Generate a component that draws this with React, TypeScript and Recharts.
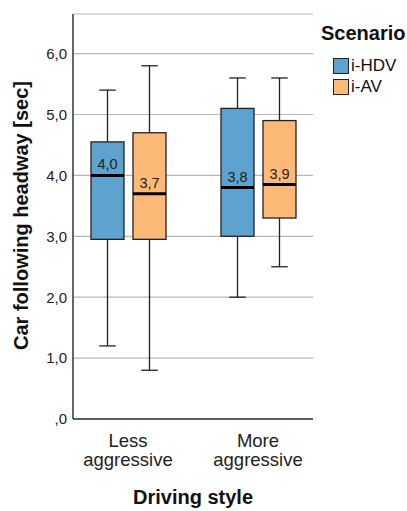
import { ComposedChart, Bar, XAxis, YAxis, CartesianGrid, Label } from 'recharts'

const styles = ['Less aggressive', 'More aggressive']
const styleIdx = [0, 1]

// i-HDV box statistics per driving style
const hdvMin = [1.2, 2.0]
const hdvQ1 = [2.95, 3.0]
const hdvMedian = [4.0, 3.8]
const hdvQ3 = [4.55, 5.1]
const hdvMax = [5.4, 5.6]

// i-AV box statistics per driving style
const avMin = [0.8, 2.5]
const avQ1 = [2.95, 3.3]
const avMedian = [3.7, 3.85]
const avQ3 = [4.7, 4.9]
const avMax = [5.8, 5.6]

const hdvLabels = ['4,0', '3,8']
const avLabels = ['3,7', '3,9']

const yTicks = [0, 1, 2, 3, 4, 5, 6]

const series = [
  { key: 'hdv', name: 'i-HDV', color: '#5ea2cf' },
  { key: 'av', name: 'i-AV', color: '#fdb977' },
]

const data = styleIdx.map((i) => ({
  idx: i,
  hdv: [hdvMin[i], hdvMax[i]],
  av: [avMin[i], avMax[i]],
  hdvStats: { min: hdvMin[i], q1: hdvQ1[i], med: hdvMedian[i], q3: hdvQ3[i], max: hdvMax[i], label: hdvLabels[i] },
  avStats: { min: avMin[i], q1: avQ1[i], med: avMedian[i], q3: avQ3[i], max: avMax[i], label: avLabels[i] },
}))

const FONT = 'Liberation Sans, Arial, sans-serif'

function makeBoxShape(key: string, fill: string) {
  return (props: any) => {
    const { x, y, width, height, payload } = props
    const s = payload[key + 'Stats']
    const top = Math.min(y, y + height)
    const bottom = Math.max(y, y + height)
    // map a value onto the pixel span the bar got from the y scale
    const py = (v: number) => bottom - ((v - s.min) / (s.max - s.min)) * (bottom - top)
    const cx = x + width / 2
    const capW = width / 2
    return (
      <g>
        <line x1={cx} x2={cx} y1={py(s.max)} y2={py(s.q3)} stroke="#222" strokeWidth={1.3} />
        <line x1={cx} x2={cx} y1={py(s.q1)} y2={py(s.min)} stroke="#222" strokeWidth={1.3} />
        <line x1={cx - capW / 2} x2={cx + capW / 2} y1={py(s.max)} y2={py(s.max)} stroke="#222" strokeWidth={1.3} />
        <line x1={cx - capW / 2} x2={cx + capW / 2} y1={py(s.min)} y2={py(s.min)} stroke="#222" strokeWidth={1.3} />
        <rect x={x} y={py(s.q3)} width={width} height={py(s.q1) - py(s.q3)} fill={fill} stroke="#222" strokeWidth={1.3} />
        <line x1={x} x2={x + width} y1={py(s.med)} y2={py(s.med)} stroke="#000" strokeWidth={3} />
        <text x={cx} y={py(s.med) - 6} textAnchor="middle" fontSize={14.5} fontFamily={FONT} fill="#222">
          {s.label}
        </text>
      </g>
    )
  }
}

function CategoryTick(props: any) {
  const { x, y, payload } = props
  const words = String(styles[payload.value] ?? '').split(' ')
  return (
    <text x={x} y={y} textAnchor="middle" fontSize={18.5} fontFamily={FONT} fill="#222">
      <tspan x={x} dy={20}>{words[0]}</tspan>
      <tspan x={x} dy={19}>{words[1]}</tspan>
    </text>
  )
}

function LegendBox() {
  return (
    <div style={{ position: 'absolute', left: 321, top: 21, fontFamily: FONT, color: '#111' }}>
      <div style={{ fontWeight: 'bold', fontSize: 20, lineHeight: '24px', marginBottom: 10 }}>Scenario</div>
      {series.map((s) => (
        <div key={s.key} style={{ display: 'flex', alignItems: 'center', height: 21, marginLeft: 12 }}>
          <span
            style={{
              display: 'inline-block',
              width: 14,
              height: 14,
              background: s.color,
              border: '1.3px solid #222',
              marginRight: 2,
            }}
          />
          <span style={{ fontSize: 17 }}>{s.name}</span>
        </div>
      ))}
    </div>
  )
}

export default function App() {
  return (
    <div style={{ position: 'absolute', left: 0, top: 0, width: 407, height: 511, background: '#fff', overflow: 'hidden' }}>
      <ComposedChart
        width={407}
        height={511}
        data={data}
        margin={{ top: 14, right: 94, bottom: 0, left: 0 }}
        barGap={9}
      >
        <CartesianGrid vertical={false} stroke="#b8b8b8" strokeWidth={1.2} />
        <XAxis
          dataKey="idx"
          type="number"
          domain={[-0.423, 1.423]}
          allowDataOverflow
          ticks={styleIdx}
          interval={0}
          height={92}
          tickLine={false}
          axisLine={{ stroke: '#333', strokeWidth: 1.5 }}
          tick={<CategoryTick />}
        >
          <Label
            content={(p: any) => {
              const vb = p.viewBox
              return (
                <text x={vb.x + vb.width / 2} y={vb.y + 85} textAnchor="middle" fontSize={20} fontWeight="bold" fontFamily={FONT} fill="#111">
                  Driving style
                </text>
              )
            }}
          />
        </XAxis>
        <YAxis
          width={73}
          domain={[0, 6.65]}
          ticks={yTicks}
          interval={0}
          tickSize={0}
          tickMargin={6}
          tickLine={false}
          axisLine={{ stroke: '#333', strokeWidth: 1.5 }}
          tick={{ fontSize: 15, fontFamily: FONT, fill: '#222' }}
          tickFormatter={(v: number) => (v === 0 ? ',0' : v.toFixed(1).replace('.', ','))}
        >
          <Label
            content={(p: any) => {
              const vb = p.viewBox
              const cx = 21
              const cy = vb.y + vb.height / 2 - 1
              return (
                <text
                  x={cx}
                  y={cy}
                  transform={`rotate(-90 ${cx} ${cy})`}
                  textAnchor="middle"
                  dominantBaseline="central"
                  fontSize={20}
                  fontWeight="bold"
                  fontFamily={FONT}
                  fill="#111"
                >
                  Car following headway [sec]
                </text>
              )
            }}
          />
        </YAxis>
        {series.map((s) => (
          <Bar
            key={s.key}
            dataKey={s.key}
            name={s.name}
            fill={s.color}
            barSize={33}
            isAnimationActive={false}
            shape={makeBoxShape(s.key, s.color)}
          />
        ))}
      </ComposedChart>
      <LegendBox />
    </div>
  )
}
